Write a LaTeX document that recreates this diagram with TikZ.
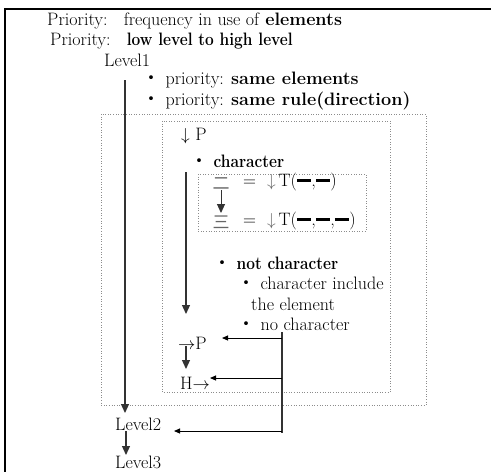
\documentclass[tikz,border=0pt]{standalone}
\usepackage{fontspec}
\newfontfamily\cjk{Noto Sans CJK SC}
\usetikzlibrary{arrows.meta}
\newcommand{\jdot}{{\cjk ・}}
\newcommand{\hbarline}{\rule[0.26em]{0.8em}{3pt}}
\newcommand{\cbf}[1]{\scalebox{0.86}[1]{\textbf{#1}}}
\begin{document}
\begin{tikzpicture}[x=1pt,y=-1pt,
  txt/.style={anchor=west,inner sep=0pt,font=\fontsize{18}{20}\selectfont},
  ctxt/.style={inner sep=0pt,font=\cjk\fontsize{17}{18}\selectfont,text=black!60,text height=11pt,text depth=0pt},
  line/.style={draw=black!80,line width=1.2pt},
  varr/.style={line,-{Triangle[width=8pt,length=9pt]}},
  harr/.style={draw=black,line width=1pt,-{Triangle[width=5pt,length=6pt]}},
  dbox/.style={draw=black!45,dotted,line width=0.6pt}]
\useasboundingbox (0,0) rectangle (491,472);
\draw[line width=1.2pt] (5,472) -- (5,9) -- (491,9);
% boxes
\draw[dbox] (101,114) rectangle (426,405);
\draw[dbox] (162,121) rectangle (390,392);
\draw[dbox] (198,174) rectangle (366,231);
% texts
\node[txt] (p1) at (47,21) {Priority:\hspace{0.9em}frequency in use of \textbf{elements}};
\node[txt] (p2) at (50,41) {Priority:\hspace{0.9em}\cbf{low level to high level}};
\node[txt] (l1) at (104,60) {Level1};
\node[txt] (b1) at (142,80) {\jdot\ priority: \textbf{same elements}};
\node[txt] (b2) at (142,101) {\jdot\ priority: \textbf{same rule(direction)}};
\node[txt] (vp) at (181,136) {$\downarrow$ P};
\node[txt] (ch) at (190,161) {\jdot\ \cbf{character}};
\node[ctxt] (er) at (221,184) {二};
\node[txt] (eq1) at (243,182) {=\ \ \textcolor{black!60}{$\downarrow$}\,T(\hbarline,\hbarline)};
\node[ctxt] (san) at (221,223) {三};
\node[txt] (eq2) at (243,221) {=\ \ \textcolor{black!60}{$\downarrow$}\,T(\hbarline,\hbarline,\hbarline)};
\node[txt] (nc) at (213,263) {\jdot\ \cbf{not character}};
\node[txt] (ci) at (237,283) {\jdot\ character include};
\node[txt] (te) at (251,304) {the element};
\node[txt] (no) at (237,324) {\jdot\ no character};
\node[txt] (rp) at (178,343) {$\rightarrow$P};
\node[txt] (hr) at (180,383) {H$\rightarrow$};
\node[txt] (l2) at (115,424) {Level2};
\node[txt] (l3) at (115,462) {Level3};
% coordinates
\coordinate (a1) at (125,80);
\coordinate (a1e) at (125,413);
\coordinate (a2) at (186,172);
\coordinate (a2e) at (186,314);
\coordinate (v3t) at (282,332);
\coordinate (v3b) at (282,433);
\coordinate (rpin) at (222,338);
\coordinate (hrin) at (210,378);
\coordinate (l2in) at (174,431);
\coordinate (e1) at (221,190);
\coordinate (e2) at (221,213);
\coordinate (r1) at (186,346);
\coordinate (r2) at (186,369);
\coordinate (q1) at (126,431);
\coordinate (q2) at (126,455);
% connectors
\draw[varr] (a1) -- (a1e);
\draw[varr] (a2) -- (a2e);
\draw[varr,line width=1pt] (e1) -- (e2);
\draw[varr] (r1) -- (r2);
\draw[varr] (q1) -- (q2);
\draw[line] (v3t) -- (v3b);
\draw[harr] (v3t |- rpin) -- (rpin);
\draw[harr] (v3t |- hrin) -- (hrin);
\draw[harr] (v3b |- l2in) -- (l2in);
\end{tikzpicture}
\end{document}
